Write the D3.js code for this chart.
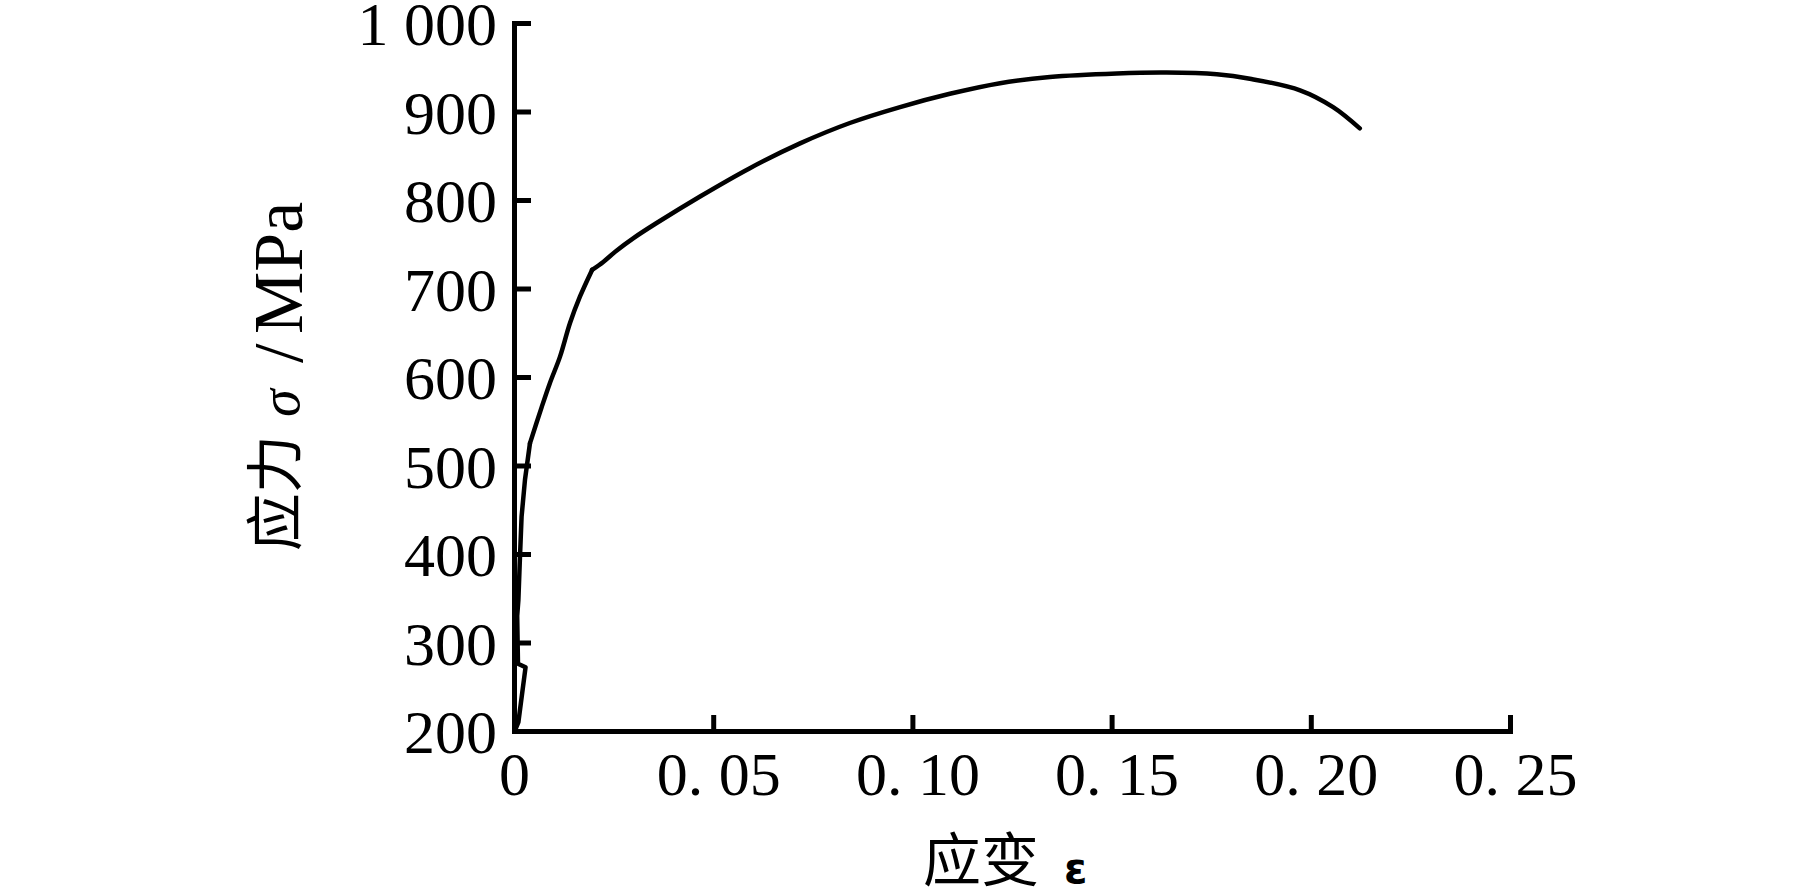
<!DOCTYPE html>
<html>
<head>
<meta charset="utf-8">
<script src="https://cdn.jsdelivr.net/npm/d3@7/dist/d3.min.js"></script>
<style>
  html, body { margin: 0; padding: 0; background: #fff; }
  svg { display: block; }
</style>
</head>
<body>
<svg id="chart" width="1819" height="893"></svg>
<script>
// ---- data ----
const strain = [0.0002, 0.0011, 0.0029, 0.0010, 0.0008, 0.0011, 0.0015, 0.0019, 0.00276, 0.0040,
                0.00695, 0.0090, 0.01155, 0.01406, 0.01657, 0.0196, 0.0224, 0.0258, 0.0300, 0.0358,
                0.0467, 0.0592, 0.0718, 0.0843, 0.0969, 0.1094, 0.1220, 0.1345, 0.1513, 0.1638,
                0.1764, 0.1847, 0.1973, 0.2056, 0.2123];
const stress = [200, 210, 272, 276, 330, 348, 397, 442, 484, 525,
                566, 593, 623, 661, 691, 721, 730, 743, 757, 774,
                804, 836, 864, 887, 905, 920, 932, 939, 943, 944,
                942, 937, 924, 905, 881];
// index of the points where the curve style changes (sharp corners in the reference)
const elasticEnd = 9;   // end of the initial loading loop (0.004, 525)
const yieldKink = 15;   // kink at (0.0196, 721)

const xTickValues = [0, 0.05, 0.10, 0.15, 0.20, 0.25];
const xTickLabels = ["0", "0. 05", "0. 10", "0. 15", "0. 20", "0. 25"];
const yTickValues = [200, 300, 400, 500, 600, 700, 800, 900, 1000];
const yTickLabels = ["200", "300", "400", "500", "600", "700", "800", "900", "1 000"];

const xTitleCJK = "应变";
const xTitleSym = "ε";
const yTitleCJK = "应力";
const yTitleSym = "σ";
const yTitleUnitSlash = "/";
const yTitleUnit = "MPa";

// ---- layout ----
const svg = d3.select("#chart");
const x = d3.scaleLinear().domain([0, 0.25]).range([514, 1510]);
const y = d3.scaleLinear().domain([200, 1000]).range([731, 23]);

const serif = "'Liberation Serif', 'Times New Roman', serif";
const cjk = "'Noto Sans CJK SC', 'Noto Sans CJK JP', sans-serif";

// curve: linear loop, then smooth segments joined at sharp corners
const pts = strain.map((s, i) => [s, stress[i]]);
const segs = [
  { data: pts.slice(0, elasticEnd + 1), curve: d3.curveLinear },
  { data: pts.slice(elasticEnd, yieldKink + 1), curve: d3.curveCatmullRom.alpha(0.5) },
  { data: pts.slice(yieldKink), curve: d3.curveCatmullRom.alpha(0.5) }
];
segs.forEach(sg => {
  const line = d3.line().x(d => x(d[0])).y(d => y(d[1])).curve(sg.curve);
  svg.append("path")
    .datum(sg.data)
    .attr("d", line)
    .attr("fill", "none")
    .attr("stroke", "#000")
    .attr("stroke-width", 4.5)
    .attr("stroke-linejoin", "round")
    .attr("stroke-linecap", "round");
});

// x axis
const xAxis = d3.axisBottom(x)
  .tickValues(xTickValues)
  .tickFormat((d, i) => xTickLabels[i])
  .tickSizeInner(-16)
  .tickSizeOuter(0)
  .tickPadding(20);
const gx = svg.append("g").attr("transform", `translate(0,${y(200)})`).call(xAxis);
gx.select(".domain").attr("stroke", "#000").attr("stroke-width", 5).attr("stroke-linecap", "square");
gx.selectAll(".tick line").attr("stroke", "#000").attr("stroke-width", 5);
gx.selectAll(".tick text")
  .attr("fill", "#000")
  .attr("font-family", serif)
  .attr("font-size", 62)
  .attr("dx", (d, i) => i === 0 ? 0 : 5)
  .style("white-space", "pre");

// y axis
const yAxis = d3.axisLeft(y)
  .tickValues(yTickValues)
  .tickFormat((d, i) => yTickLabels[i])
  .tickSizeInner(-17)
  .tickSizeOuter(0)
  .tickPadding(17);
const gy = svg.append("g").attr("transform", `translate(${x(0)},0)`).call(yAxis);
gy.select(".domain").attr("stroke", "#000").attr("stroke-width", 5).attr("stroke-linecap", "square");
gy.selectAll(".tick line").attr("stroke", "#000").attr("stroke-width", 5);
gy.selectAll(".tick text")
  .attr("fill", "#000")
  .attr("font-family", serif)
  .attr("font-size", 62)
  .attr("dy", "0.35em")
  .style("white-space", "pre");

// x title
const xt = svg.append("g");
xt.append("text")
  .attr("x", 923).attr("y", 881)
  .attr("font-family", cjk).attr("font-size", 58)
  .attr("fill", "#000")
  .text(xTitleCJK);
xt.append("text")
  .attr("x", 1064).attr("y", 883)
  .attr("font-family", "'DejaVu Sans', sans-serif").attr("font-size", 42)
  .attr("font-weight", "bold")
  .attr("fill", "#000")
  .text(xTitleSym);

// y title (rotated, reads bottom to top)
const yt = svg.append("g").attr("transform", "translate(302,551) rotate(-90)");
yt.append("text")
  .attr("x", 0).attr("y", -6)
  .attr("font-family", cjk).attr("font-size", 58)
  .attr("fill", "#000")
  .text(yTitleCJK);
yt.append("text")
  .attr("x", 134).attr("y", -3)
  .attr("font-family", serif).attr("font-size", 56)
  .attr("font-style", "italic")
  .attr("fill", "#000")
  .text(yTitleSym);
yt.append("text")
  .attr("x", 188).attr("y", 0)
  .attr("font-family", serif).attr("font-size", 70)
  .attr("fill", "#000")
  .text(yTitleUnitSlash);
yt.append("text")
  .attr("x", 217).attr("y", 0)
  .attr("font-family", serif).attr("font-size", 70)
  .attr("fill", "#000")
  .text(yTitleUnit);
</script>
</body>
</html>
